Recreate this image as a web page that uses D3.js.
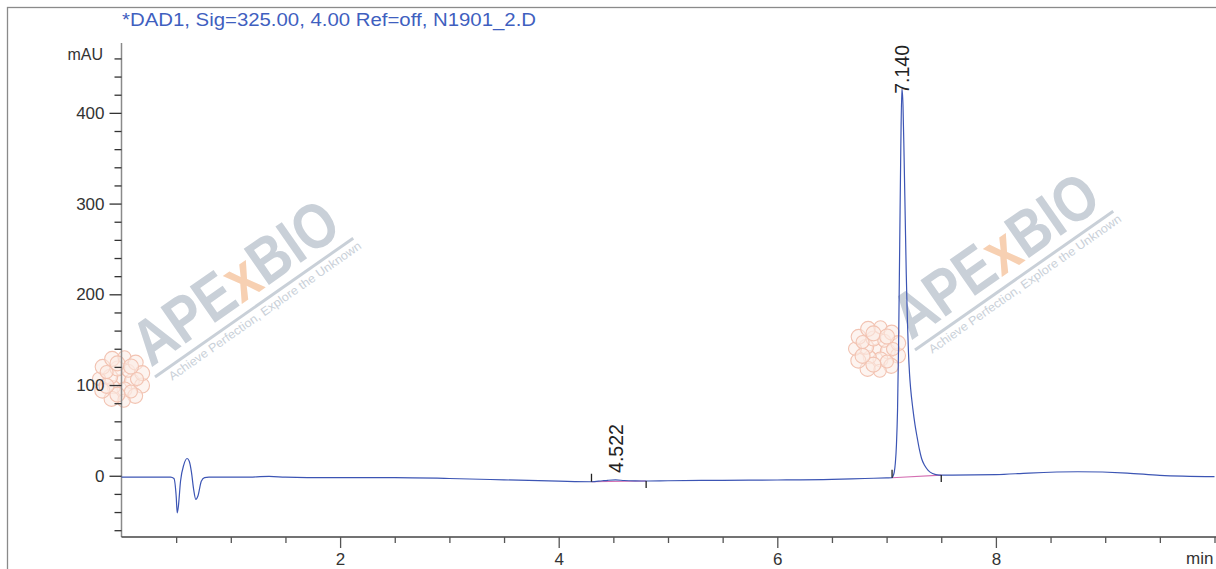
<!DOCTYPE html>
<html>
<head>
<meta charset="utf-8">
<script src="https://cdn.jsdelivr.net/npm/d3@7"></script>
<style>
  html, body { margin: 0; padding: 0; background: #fff; overflow: hidden; }
  svg { display: block; font-family: Arial, "Liberation Sans", sans-serif; }
</style>
</head>
<body>
<script>
// trace (min, mAU)
const times = [0, 0.30, 0.45, 0.48, 0.50, 0.51, 0.52, 0.54, 0.57, 0.60, 0.62, 0.64, 0.66, 0.68, 0.70, 0.73, 0.76, 0.80,
  1.0, 1.2, 1.35, 1.5, 1.7, 2.0, 2.5, 3.0, 3.5, 4.0, 4.3, 4.4, 4.45, 4.52, 4.6, 4.7, 4.8, 5.0, 5.5, 6.0, 6.5, 6.8, 7.0,
  7.05, 7.06, 7.07, 7.08, 7.09, 7.10, 7.11, 7.12, 7.13, 7.14, 7.15, 7.16, 7.17, 7.18, 7.19, 7.20, 7.21, 7.22, 7.24,
  7.26, 7.28, 7.30, 7.32, 7.35, 7.38, 7.42, 7.48, 7.6, 8.0, 8.3, 8.75, 9.2, 9.5, 10.0];
const signal = [-1.4, -1.4, -1.4, -3, -22, -41, -34, -6, 12, 19, 16, 4, -15, -26, -22, -6, -2, -1.4,
  -1.6, -1.4, -0.6, -1.6, -2, -2, -2, -3, -4.5, -6, -6.6, -5.5, -5, -4.6, -5.2, -5.6, -5.8, -5.5, -5, -4.7, -4, -3, -2.4,
  -2.2, 0, 4, 14, 34, 72, 148, 255, 362, 427, 408, 352, 287, 222, 172, 136, 112, 96, 74,
  56, 42, 29, 19, 11, 6, 2.5, 0.8, 0.8, 1.2, 3, 4.4, 3, 0.5, -1];

// integrated peaks
const peakRT = [4.522, 7.140];
const peakLabels = ['4.522', '7.140'];
const peakApex = [-4.6, 427];
const peakStart = [4.30, 7.05];
const peakStartVal = [-6.6, -2.2];
const peakEnd = [4.80, 7.50];
const peakEndVal = [-5.8, 0.8];

const yTickValues = d3.range(-60, 461, 20);
const yLabelled = [0, 100, 200, 300, 400];
const xTickValues = d3.range(0.5, 10.01, 0.5);
const xLabelled = [2, 4, 6, 8];

const titleText = '*DAD1, Sig=325.00, 4.00 Ref=off, N1901_2.D';

const width = 1216, height = 569;
const plotLeft = 121.5, plotTop = 43, plotBottom = 537;

const svg = d3.select('body').append('svg').attr('width', width).attr('height', height);

const x = d3.scaleLinear().domain([0, 10]).range([plotLeft, plotLeft + 1093]);
const y = d3.scaleLinear().domain([-67.5, 477]).range([plotBottom, plotTop]);

// outer frame
svg.append('rect').attr('x', 7.5).attr('y', 7.5).attr('width', 1300).attr('height', 700)
    .style('fill', 'none').style('stroke', '#8a8a8a').style('stroke-width', 1.3);

// watermarks
const marks = [{x: 155, y: 377, cx: 121, cy: 379}, {x: 915, y: 350, cx: 877, cy: 349}];
const blob = [[0, 0]];
for (let i = 0; i < 6; i++) blob.push([11 * Math.cos(i * Math.PI / 3 + 0.2), 11 * Math.sin(i * Math.PI / 3 + 0.2)]);
for (let i = 0; i < 11; i++) blob.push([22 * Math.cos(i * 2 * Math.PI / 11 + 0.3), 22 * Math.sin(i * 2 * Math.PI / 11 + 0.3)]);
for (let i = 0; i < 7; i++) blob.push([16 * Math.cos(i * 2 * Math.PI / 7 + 0.9), 16 * Math.sin(i * 2 * Math.PI / 7 + 0.9)]);

marks.forEach(m => {
    const c = svg.append('g').attr('transform', `translate(${m.cx},${m.cy})`);
    c.selectAll('circle').data(blob).enter().append('circle')
        .attr('cx', d => d[0]).attr('cy', d => d[1]).attr('r', (d, i) => i === 0 ? 5 : (i % 3 === 0 ? 6.5 : 7.5))
        .style('fill', '#fcebe3').style('fill-opacity', 0.55)
        .style('stroke', '#f2c3b2').style('stroke-width', 1.1);

    const g = svg.append('g').attr('transform', `translate(${m.x},${m.y}) rotate(-35)`);
    g.append('line').attr('x1', 0).attr('y1', 0).attr('x2', 242).attr('y2', 0)
        .style('stroke', '#c9d0d8').style('stroke-width', 3);
    const t = g.append('text').attr('x', 2).attr('y', -10)
        .attr('textLength', 236).attr('lengthAdjust', 'spacingAndGlyphs')
        .style('font-size', '64px').style('font-weight', 'bold').style('fill', '#c9d0d8');
    t.append('tspan').text('APE');
    t.append('tspan').text('x').style('fill', '#f7d0b2');
    t.append('tspan').text('BIO');
    g.append('text').attr('x', 12).attr('y', 13).attr('textLength', 232).attr('lengthAdjust', 'spacingAndGlyphs')
        .style('font-size', '12px').style('fill', '#c9d0d8')
        .text('Achieve Perfection, Explore the Unknown');
});

// title
svg.append('text').attr('x', 122).attr('y', 26).text(titleText)
    .attr('textLength', 414).attr('lengthAdjust', 'spacingAndGlyphs')
    .style('font-size', '18px').style('fill', '#3f5fbf');

// y axis
const yAxis = svg.append('g').attr('transform', `translate(${plotLeft},0)`)
    .call(d3.axisLeft(y).tickValues(yTickValues).tickSizeOuter(0)
        .tickFormat(d => yLabelled.includes(d) ? d : ''));
yAxis.select('.domain').attr('d', `M0,${plotTop}V${plotBottom}`).style('stroke', '#8a8a8a').style('stroke-width', 1.5);
yAxis.selectAll('.tick line').attr('x2', d => yLabelled.includes(d) ? -12 : -7)
    .style('stroke', '#333').style('stroke-width', 1.3);
yAxis.selectAll('.tick text').attr('x', -17).style('font-size', '17px').style('fill', '#333');
svg.append('text').attr('x', 103).attr('y', y(460) + 2).attr('text-anchor', 'end')
    .text('mAU').style('font-size', '16px').style('fill', '#333');

// x axis
const xAxis = svg.append('g').attr('transform', `translate(0,${plotBottom})`)
    .call(d3.axisBottom(x).tickValues(xTickValues).tickSizeOuter(0)
        .tickFormat(d => xLabelled.includes(d) ? d : ''));
xAxis.select('.domain').attr('d', `M${plotLeft},0H${width + 10}`).style('stroke', '#444').style('stroke-width', 1.5);
xAxis.selectAll('.tick line').attr('y2', d => xLabelled.includes(d) ? 11 : 6)
    .style('stroke', '#555').style('stroke-width', 1.3);
xAxis.selectAll('.tick text').attr('y', 16).style('font-size', '17px').style('fill', '#333');
svg.append('text').attr('x', 1186).attr('y', 564).text('min').style('font-size', '17px').style('fill', '#333');

// integration baselines
peakRT.forEach((rt, i) => {
    svg.append('line').attr('x1', x(peakStart[i])).attr('y1', y(peakStartVal[i]))
        .attr('x2', x(peakEnd[i])).attr('y2', y(peakEndVal[i]))
        .style('stroke', '#d46fb2').style('stroke-width', 1.2);
});

// trace
const pts = times.map((t, i) => [t, signal[i]]);
svg.append('path').datum(pts)
    .attr('d', d3.line().x(d => x(d[0])).y(d => y(d[1])).curve(d3.curveMonotoneX))
    .style('fill', 'none').style('stroke', '#3c55b4').style('stroke-width', 1.2);

// peak start / end markers and labels
peakRT.forEach((rt, i) => {
    const xs = x(peakStart[i]), ys = y(peakStartVal[i]);
    svg.append('line').attr('x1', xs).attr('x2', xs).attr('y1', ys - 8).attr('y2', ys)
        .style('stroke', '#222').style('stroke-width', 1.3);
    const xe = x(peakEnd[i]), ye = y(peakEndVal[i]);
    svg.append('line').attr('x1', xe).attr('x2', xe).attr('y1', ye).attr('y2', ye + 7)
        .style('stroke', '#222').style('stroke-width', 1.3);

    const lab = svg.append('text').text(peakLabels[i])
        .style('font-size', '19.5px').style('fill', '#222').attr('dy', '0.35em');
    const len = lab.node().getComputedTextLength();
    const y0 = Math.max(y(peakApex[i]) - 7, plotTop + len + 2);
    lab.attr('transform', `translate(${x(rt)},${y0}) rotate(-90)`);
});
</script>
</body>
</html>
